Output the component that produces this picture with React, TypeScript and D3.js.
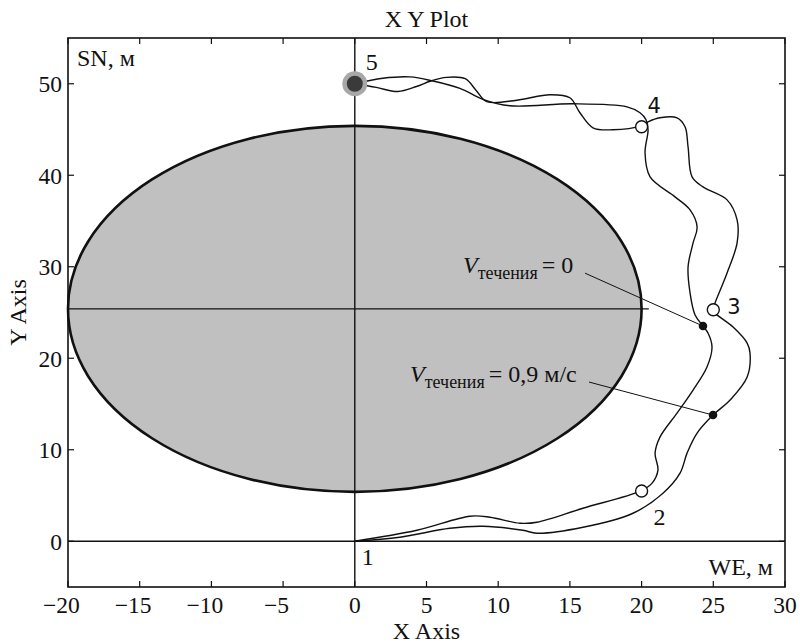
import React from "react";
import * as d3 from "d3";

const W = 800;
const H = 643;

const xTicks = [-20, -15, -10, -5, 0, 5, 10, 15, 20, 25, 30];
const yTicks = [0, 10, 20, 30, 40, 50];

// Trajectory with V_течения = 0 (inner)
const innerX = [0, 4.33, 8.03, 9.42, 11.51, 12.7, 15.91, 19.9, 20.73, 21.14, 20.94, 21.28, 22.47, 23.59, 24.56, 24.91, 24.63, 24.28, 23.73, 23.38, 23.24, 23.59, 23.87, 23.38, 22.33, 20.59, 20.24, 20.45, 20.31, 19.89, 18.98, 15.21, 10.82, 8.93, 7.33, 5.44, 3.84, 1.95, 0];
const innerY = [0, 1.2, 2.74, 2.63, 1.97, 2.08, 3.61, 5.47, 6.35, 7.77, 9.63, 11.38, 14.0, 16.52, 19.04, 21.23, 22.76, 23.52, 24.73, 27.13, 29.98, 32.6, 34.35, 36.21, 37.64, 39.82, 42.45, 44.97, 46.06, 46.83, 47.48, 47.81, 47.59, 48.3, 49.5, 50.3, 50.75, 50.6, 50];

// Trajectory with V_течения = 0,9 м/с (outer)
const outerX = [0, 3.14, 6.63, 8.93, 11.72, 12.7, 15.91, 19.4, 21.49, 22.68, 23.17, 23.87, 24.98, 26.17, 27.36, 27.56, 27.36, 26.38, 25.12, 24.98, 25.12, 25.96, 26.66, 26.66, 25.96, 24.28, 23.52, 23.24, 23.03, 22.47, 21.28, 20.45, 19.96, 18.0, 16.61, 15.7, 15.0, 13.61, 11.3, 9.2, 8.45, 7.7, 6.4, 5.3, 4.3, 3.0, 1.5, 0];
const outerY = [0, 0.44, 1.42, 1.64, 1.2, 0.88, 1.53, 3.06, 5.25, 7.44, 9.63, 11.82, 13.79, 15.43, 17.94, 20.57, 21.66, 23.41, 24.95, 25.38, 26.04, 29.32, 32.6, 35.12, 37.31, 38.73, 39.82, 43.11, 45.3, 46.28, 46.28, 45.84, 45.4, 44.97, 45.19, 46.83, 48.47, 48.8, 48.2, 48.05, 49.3, 50.55, 50.7, 50.3, 49.7, 49.15, 49.6, 50];

// Waypoints 1..5
const wpLabels = ["1", "2", "3", "4", "5"];
const wpX = [0, 20, 25, 20, 0];
const wpY = [0, 5.5, 25.3, 45.3, 50];

// Obstacle ellipse
const ellCx = 0;
const ellCy = 25.4;
const ellRx = 20;
const ellRy = 20;

// Annotated points
const annLabels = ["= 0", "= 0,9 м/с"];
const annX = [24.28, 24.98];
const annY = [23.52, 13.79];
const annTextX = [7.55, 3.85];
const annTextY = [29.3, 17.4];

export default function App() {
  const left = 68, right = 785, top = 38, bottom = 587;
  const x = d3.scaleLinear().domain([-20, 30]).range([left, right]);
  const y = d3.scaleLinear().domain([-5, 55]).range([bottom, top]);

  const line = d3
    .line<[number, number]>()
    .x((d) => x(d[0]))
    .y((d) => y(d[1]))
    .curve(d3.curveCatmullRom.alpha(0.5));

  const innerPts = innerX.map((v, i) => [v, innerY[i]] as [number, number]);
  const outerPts = outerX.map((v, i) => [v, outerY[i]] as [number, number]);

  const serif = "'Liberation Serif', 'Times New Roman', serif";
  const sans = "'DejaVu Sans', sans-serif";
  const fs = 24;
  const tfs = 23.5;

  const labelOffsets: Record<string, { dx: number; dy: number; font: string }> = {
    "1": { dx: 7, dy: 24, font: serif },
    "2": { dx: 12, dy: 34, font: serif },
    "3": { dx: 14, dy: 4, font: sans },
    "4": { dx: 6, dy: -14, font: sans },
    "5": { dx: 11, dy: -14, font: serif },
  };

  return (
    <svg width={W} height={H} style={{ display: "block", position: "absolute", left: 0, top: 0 }}>
      <rect width={W} height={H} fill="#fff" />
      {/* ellipse */}
      <ellipse
        cx={x(ellCx)}
        cy={y(ellCy)}
        rx={x(ellCx + ellRx) - x(ellCx)}
        ry={y(ellCy) - y(ellCy + ellRy)}
        fill="#c0c0c0"
        stroke="#111"
        strokeWidth={2.6}
      />
      {/* axis cross lines */}
      <line x1={x(0)} x2={x(0)} y1={top} y2={bottom} stroke="#111" strokeWidth={1.4} />
      <line x1={left} x2={right} y1={y(0)} y2={y(0)} stroke="#111" strokeWidth={1.4} />
      <line x1={left} x2={x(20.5)} y1={y(ellCy)} y2={y(ellCy)} stroke="#111" strokeWidth={1.2} />

      {/* frame */}
      <rect x={left} y={top} width={right - left} height={bottom - top} fill="none" stroke="#111" strokeWidth={1.6} />
      {xTicks.map((t) => (
        <g key={"xt" + t}>
          <line x1={x(t)} x2={x(t)} y1={bottom} y2={bottom - 6} stroke="#111" strokeWidth={1.2} />
          <line x1={x(t)} x2={x(t)} y1={top} y2={top + 6} stroke="#111" strokeWidth={1.2} />
          <text
            x={x(t) + String(Math.abs(t)).length * tfs * 0.25}
            y={613}
            textAnchor="end"
            fontFamily={serif}
            fontSize={tfs}
            fill="#111"
          >
            {t < 0 ? "\u2212" + Math.abs(t) : String(t)}
          </text>
        </g>
      ))}
      {yTicks.map((t) => (
        <g key={"yt" + t}>
          <line x1={left} x2={left + 6} y1={y(t)} y2={y(t)} stroke="#111" strokeWidth={1.2} />
          <line x1={right} x2={right - 6} y1={y(t)} y2={y(t)} stroke="#111" strokeWidth={1.2} />
          <text x={62} y={y(t)} dy="0.36em" textAnchor="end" fontFamily={serif} fontSize={tfs} fill="#111">
            {t}
          </text>
        </g>
      ))}

      {/* trajectories */}
      <path d={line(innerPts) || ""} fill="none" stroke="#111" strokeWidth={1.4} />
      <path d={line(outerPts) || ""} fill="none" stroke="#111" strokeWidth={1.4} />

      {/* annotation leader lines */}
      {annLabels.map((l, i) => {
        const tx = x(annTextX[i]);
        const ty = y(annTextY[i]);
        const endX = i === 0 ? 585 : 589;
        return (
          <g key={"ann" + i}>
            <line x1={endX} y1={ty} x2={x(annX[i])} y2={y(annY[i])} stroke="#111" strokeWidth={1} />
            <text x={tx} y={ty} fontFamily={serif} fontSize={fs} fill="#111">
              <tspan fontStyle="italic">V</tspan>
              <tspan fontSize={18} dy={6}>течения</tspan>
              <tspan dy={-6} dx={4}>{l}</tspan>
            </text>
            <circle cx={x(annX[i])} cy={y(annY[i])} r={4.3} fill="#111" />
          </g>
        );
      })}

      {/* waypoints */}
      {wpLabels.map((l, i) => {
        const o = labelOffsets[l];
        const cx = x(wpX[i]);
        const cy = y(wpY[i]);
        return (
          <g key={"wp" + l}>
            {l === "5" ? (
              <>
                <circle cx={cx} cy={cy} r={12.5} fill="#a8a8a8" />
                <circle cx={cx} cy={cy} r={8} fill="#3a3a3a" />
              </>
            ) : l === "1" ? null : (
              <circle cx={cx} cy={cy} r={6} fill="#fff" stroke="#111" strokeWidth={1.4} />
            )}
            <text x={cx + o.dx} y={cy + o.dy} fontFamily={o.font} fontSize={l === "3" || l === "4" ? 21 : fs} fill="#111">
              {l}
            </text>
          </g>
        );
      })}

      {/* titles & axis labels */}
      <text x={(left + right) / 2} y={27} textAnchor="middle" fontFamily={serif} fontSize={fs} fill="#111">
        X Y Plot
      </text>
      <text x={(left + right) / 2} y={639} textAnchor="middle" fontFamily={serif} fontSize={fs} fill="#111">
        X Axis
      </text>
      <text
        transform={`translate(26, ${(top + bottom) / 2}) rotate(-90)`}
        textAnchor="middle"
        fontFamily={serif}
        fontSize={fs}
        fill="#111"
      >
        Y Axis
      </text>
      <text x={77} y={66} fontFamily={serif} fontSize={fs} fill="#111">
        SN, м
      </text>
      <text x={773} y={575} textAnchor="end" fontFamily={serif} fontSize={fs} fill="#111">
        WE, м
      </text>
    </svg>
  );
}
